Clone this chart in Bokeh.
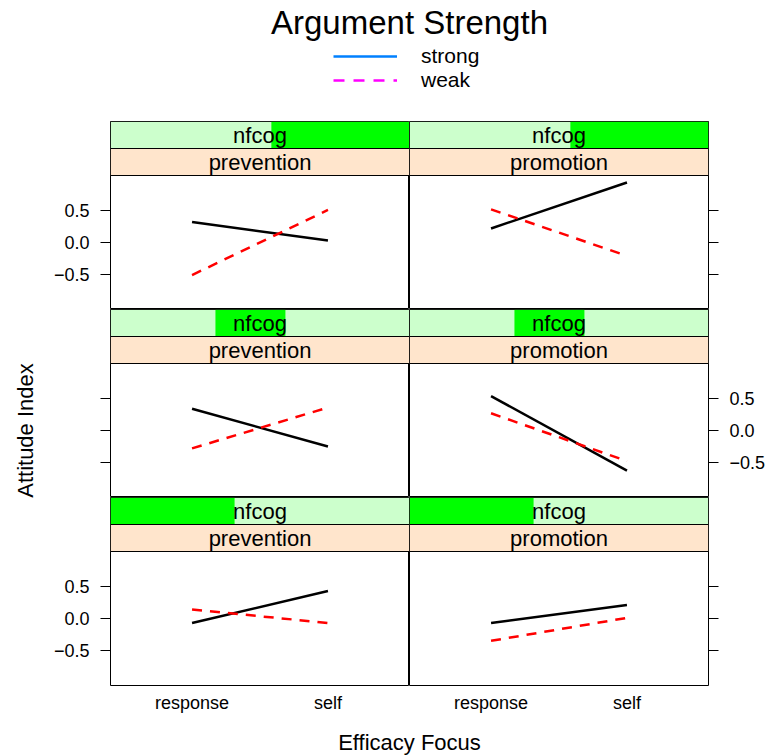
import math
from bokeh.plotting import figure
from bokeh.layouts import column, row
from bokeh.models import (Range1d, LinearAxis, FixedTicker, CustomJSTickFormatter,
                          Legend, LegendItem)
from bokeh.core.properties import value
from bokeh.embed import file_html
from bokeh.resources import INLINE

FONT = "Liberation Sans"

# x factor and the regulatory-focus panels
efficacy_focus = ["response", "self"]
regulatory_focus = ["prevention", "promotion"]

# nfcog shingle intervals, as a share of the nfcog range (low, mid, high)
nfcog_lower = [0.0, 0.351, 0.538]
nfcog_upper = [0.415, 0.585, 1.0]

# mean attitude index (response, self) for each nfcog level, low -> high
strong_prevention = [[-0.07, 0.43], [0.34, -0.25], [0.32, 0.03]]
weak_prevention = [[0.14, -0.07], [-0.28, 0.36], [-0.51, 0.51]]
strong_promotion = [[-0.07, 0.21], [0.54, -0.63], [0.22, 0.94]]
weak_promotion = [[-0.35, 0.01], [0.27, -0.48], [0.52, -0.21]]

strong = {"prevention": strong_prevention, "promotion": strong_promotion}
weak = {"prevention": weak_prevention, "promotion": weak_promotion}

# key entries: label, colour, dash
key_labels = ["strong", "weak"]
key_colors = ["#0080FF", "#FF00FF"]
key_dashes = ["solid", "11 9"]

y_ticks = [-0.5, 0.0, 0.5]
y_limits = (-1.05, 1.05)

# factor levels sit at 1..n, with lattice-style padding of 0.6 on each side
x_pos = list(range(1, len(efficacy_focus) + 1))
x_limits = (0.4, len(efficacy_focus) + 0.6)

# layout sizes (pixels)
PANEL_W, PANEL_H, STRIP_H = 299, 134, 27
YLAB_W, LEFT_W, RIGHT_W = 50, 60, 59
HEADER_H, FOOTER_H, XLAB_H = 121, 39, 31
GRID_H = 3 * (PANEL_H + 2 * STRIP_H) + XLAB_H
KEY_LEFT, KEY_BOTTOM, KEY_STEP = 223, 53, 24

strip_span = (y_limits[1] - y_limits[0]) * STRIP_H / PANEL_H
y_top = y_limits[1] + 2 * strip_span
x_mid = (x_limits[0] + x_limits[1]) / 2


def x_at(frac):
    return x_limits[0] + frac * (x_limits[1] - x_limits[0])


y_fmt = CustomJSTickFormatter(
    code="return tick === 0 ? '0.0' : tick.toFixed(1).replace('-', '\u2212');")
x_fmt = CustomJSTickFormatter(args=dict(levels=efficacy_focus),
                              code="return levels[Math.round(tick) - 1];")


def bare_figure(**kw):
    p = figure(min_border=0, x_axis_location=None, y_axis_location=None,
               output_backend="svg", toolbar_location=None, **kw)
    p.grid.visible = False
    return p


def y_axis(show_labels):
    return LinearAxis(
        ticker=FixedTicker(ticks=y_ticks), formatter=y_fmt,
        axis_line_color=None, major_tick_in=0, major_tick_out=10,
        major_tick_line_color="black", minor_tick_line_color=None,
        major_label_standoff=11, major_label_text_font=FONT,
        major_label_text_font_size="18px",
        major_label_text_color="black" if show_labels else None)


def make_panel(level, col, row_pos):
    first_col = col == 0
    bottom = row_pos == 2
    focus = regulatory_focus[col]
    p = bare_figure(
        x_range=Range1d(*x_limits),
        y_range=Range1d(y_limits[0], y_top),
        frame_width=PANEL_W, frame_height=PANEL_H + 2 * STRIP_H,
        min_border_left=LEFT_W if first_col else 0,
        min_border_right=0 if first_col else RIGHT_W,
        min_border_bottom=XLAB_H if bottom else 0,
        outline_line_color="black", outline_line_width=1,
    )

    # strips: regulatory focus next to the panel, nfcog shingle above it
    s1_bot, s1_top = y_limits[1], y_limits[1] + strip_span
    s2_bot, s2_top = s1_top, y_top
    p.quad(left=[x_limits[0]], right=[x_limits[1]], bottom=[s1_bot], top=[s1_top],
           fill_color="#FFE5CC", line_color="black", line_width=1)
    p.quad(left=[x_limits[0]], right=[x_limits[1]], bottom=[s2_bot], top=[s2_top],
           fill_color="#CCFFCC", line_color=None)
    p.quad(left=[x_at(nfcog_lower[level])], right=[x_at(nfcog_upper[level])],
           bottom=[s2_bot], top=[s2_top], fill_color="#00FF00", line_color=None)
    p.quad(left=[x_limits[0]], right=[x_limits[1]], bottom=[s2_bot], top=[s2_top],
           fill_color=None, line_color="black", line_width=1)
    for label, lo, hi in [(focus, s1_bot, s1_top), ("nfcog", s2_bot, s2_top)]:
        p.text(x=[x_mid], y=[(lo + hi) / 2], text=[label],
               text_align="center", text_baseline="middle",
               text_font=value(FONT), text_font_size="22px", text_color="black")

    # interaction lines
    p.line(x_pos, strong[focus][level], line_color="black", line_width=2.5)
    p.line(x_pos, weak[focus][level], line_color="red", line_width=2.5,
           line_dash="10 8")

    # alternating y axes
    if first_col:
        p.add_layout(y_axis(row_pos != 1), "left")
    else:
        p.add_layout(y_axis(row_pos == 1), "right")

    if bottom:
        p.add_layout(LinearAxis(
            ticker=FixedTicker(ticks=x_pos), formatter=x_fmt,
            axis_line_color=None, major_tick_in=0, major_tick_out=0,
            major_tick_line_color=None, minor_tick_line_color=None,
            major_label_standoff=7, major_label_text_font=FONT,
            major_label_text_font_size="18px", major_label_text_color="black"),
            "below")
    return p


# header: title and key
header = bare_figure(width=YLAB_W + LEFT_W + 2 * PANEL_W + RIGHT_W, height=HEADER_H,
                     x_range=Range1d(0, 1), y_range=Range1d(0, 1),
                     min_border_left=YLAB_W + LEFT_W, min_border_right=RIGHT_W,
                     outline_line_color=None, title="Argument Strength")
header.title.align = "center"
header.title.text_font = FONT
header.title.text_font_size = "33px"
header.title.text_font_style = "normal"
header.title.text_color = "black"
header.title.standoff = 2
nan = [math.nan]
for i, (lab, colr, dash) in enumerate(zip(key_labels, key_colors, key_dashes)):
    key_line = header.line(x=nan, y=nan, line_color=colr, line_width=2.5, line_dash=dash)
    header.add_layout(Legend(
        items=[LegendItem(label=lab, renderers=[key_line])],
        location=(KEY_LEFT, KEY_BOTTOM - i * KEY_STEP), orientation="vertical",
        glyph_width=64, glyph_height=20, label_standoff=24, label_text_font=FONT,
        label_text_font_size="21px", label_text_color="black",
        spacing=0, padding=0, margin=0, border_line_color=None,
        background_fill_alpha=0), "center")

# y axis title, centred on the middle row's panel
ylab = bare_figure(width=YLAB_W, height=GRID_H, x_range=Range1d(0, YLAB_W),
                   y_range=Range1d(0, GRID_H), outline_line_color=None)
ylab.text(x=[25], y=[XLAB_H + PANEL_H + 2 * STRIP_H + PANEL_H / 2],
          text=["Attitude Index"], angle=math.pi / 2, text_align="center",
          text_baseline="middle", text_font=value(FONT), text_font_size="22px",
          text_color="black")

# footer: x axis title
footer = bare_figure(width=YLAB_W + LEFT_W + 2 * PANEL_W + RIGHT_W, height=FOOTER_H,
                     x_range=Range1d(0, 1), y_range=Range1d(0, FOOTER_H),
                     min_border_left=YLAB_W + LEFT_W, min_border_right=RIGHT_W,
                     outline_line_color=None)
footer.text(x=[0.5], y=[13], text=["Efficacy Focus"], text_align="center",
            text_baseline="middle", text_font=value(FONT), text_font_size="22px",
            text_color="black")

# nfcog levels: high on top, low at the bottom
rows = []
for row_pos, level in enumerate([2, 1, 0]):
    rows.append(row(make_panel(level, 0, row_pos), make_panel(level, 1, row_pos)))

layout = column(header, row(ylab, column(*rows)), footer)
open("out.html", "w").write(file_html(layout, INLINE))
